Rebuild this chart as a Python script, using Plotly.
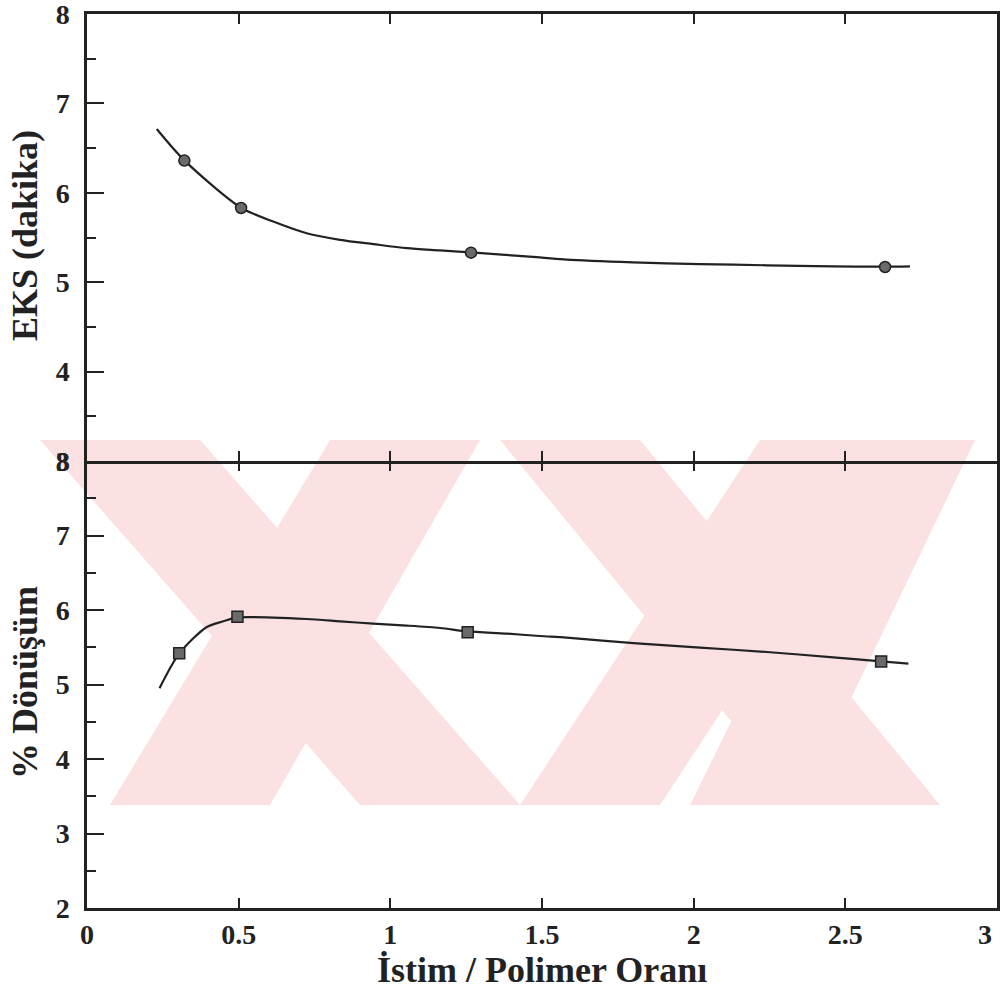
import plotly.graph_objects as go

# ---------------- data ----------------
ratio_eks_pts = [0.321, 0.508, 1.266, 2.631]
eks_pts = [6.36, 5.83, 5.33, 5.17]

eks_curve_x = [0.230, 0.321, 0.508, 0.614, 0.724, 0.834, 0.944, 1.054, 1.164, 1.266,
               1.493, 1.581, 1.800, 2.021, 2.241, 2.459, 2.631, 2.713]
eks_curve_y = [6.714, 6.363, 5.833, 5.678, 5.548, 5.474, 5.426, 5.381, 5.356, 5.333,
               5.278, 5.252, 5.222, 5.203, 5.189, 5.176, 5.174, 5.178]

ratio_conv_pts = [0.304, 0.496, 1.255, 2.618]
conv_pts = [5.42, 5.91, 5.70, 5.31]

conv_curve_x = [0.239, 0.304, 0.395, 0.449, 0.496, 0.614, 0.724, 0.834, 0.944, 1.054,
                1.164, 1.255, 1.384, 1.493, 1.581, 1.801, 2.021, 2.241, 2.460, 2.618, 2.708]
conv_curve_y = [4.95, 5.415, 5.772, 5.848, 5.900, 5.898, 5.879, 5.848, 5.817, 5.791,
                5.758, 5.712, 5.683, 5.651, 5.630, 5.555, 5.495, 5.436, 5.365, 5.310, 5.281]

x_ticks = [0, 0.5, 1, 1.5, 2, 2.5, 3]
x_tick_text = ["0", "0.5", "1", "1.5", "2", "2.5", ""]   # last label drawn separately
x_last_label = "3"
eks_ticks = [3, 4, 5, 6, 7, 8]
conv_ticks = [2, 3, 4, 5, 6, 7, 8]

x_title = "İstim / Polimer Oranı"
eks_title = "EKS (dakika)"
conv_title = "% Dönüşüm"

# ---------------- figure ----------------
W, H = 1000, 1001
L, R, T, B = 87, 3, 14, 93
split = 461  # pixel row of the shared boundary
plot_h = H - T - B
dom_split = (H - B - split) / plot_h

ink = "#222222"
fam = "Liberation Serif"

fig = go.Figure()

def px(xp):
    return (xp - L) / (W - L - R)

def py(yp):
    return (H - B - yp) / plot_h

# background watermark (light pink diagonal bands), pixel geometry
wm_color = "rgb(251,225,225)"
bands = [
    # (top-left x, top-right x, bottom-left x, bottom-right x)
    (40, 200, 360, 520),
    (330, 480, 110, 270),
    (500, 640, 800, 940),
    (760, 900, 520, 660),
    (870, 975, 690, 800),
]
y_top_wm, y_bot_wm = 440, 805
for a, b, c, d in bands:
    path = (f"M {px(a)},{py(y_top_wm)} L {px(b)},{py(y_top_wm)} "
            f"L {px(d)},{py(y_bot_wm)} L {px(c)},{py(y_bot_wm)} Z")
    fig.add_shape(type="path", path=path, xref="paper", yref="paper",
                  fillcolor=wm_color, line=dict(width=0), layer="below")

# top panel
fig.add_trace(go.Scatter(x=eks_curve_x, y=eks_curve_y, mode="lines",
                         line=dict(color=ink, width=2.2, shape="spline", smoothing=0.8),
                         xaxis="x2", yaxis="y2", showlegend=False, hoverinfo="skip"))
fig.add_trace(go.Scatter(x=ratio_eks_pts, y=eks_pts, mode="markers",
                         marker=dict(symbol="circle", size=11, color="#6a6a6a",
                                     line=dict(color=ink, width=1.5)),
                         xaxis="x2", yaxis="y2", showlegend=False))
# bottom panel
fig.add_trace(go.Scatter(x=conv_curve_x, y=conv_curve_y, mode="lines",
                         line=dict(color=ink, width=2.2, shape="spline", smoothing=0.8),
                         xaxis="x", yaxis="y", showlegend=False, hoverinfo="skip"))
fig.add_trace(go.Scatter(x=ratio_conv_pts, y=conv_pts, mode="markers",
                         marker=dict(symbol="square", size=11, color="#6a6a6a",
                                     line=dict(color=ink, width=1.5)),
                         xaxis="x", yaxis="y", showlegend=False))
# empty trace so the overlay axis (downward ticks on the shared boundary) is drawn
fig.add_trace(go.Scatter(x=[None], y=[None], xaxis="x3", yaxis="y",
                         showlegend=False, hoverinfo="skip"))

tick_font = dict(family=fam, size=28, color=ink, weight="bold")

common_x = dict(range=[0, 3], tickvals=x_ticks, ticktext=x_tick_text,
                ticks="inside", ticklen=10, tickwidth=2, tickcolor=ink,
                showgrid=False, zeroline=False, automargin=False,
                tickfont=tick_font, ticklabeloverflow="allow")
common_y = dict(ticks="inside", ticklen=17, tickwidth=2, tickcolor=ink,
                showline=True, linewidth=2.5, linecolor=ink, mirror=True,
                showgrid=False, zeroline=False, automargin=False,
                tickfont=tick_font, ticklabelstandoff=9, ticklabeloverflow="allow",
                minor=dict(dtick=0.5, ticks="inside", ticklen=9, tickwidth=2, tickcolor=ink))

fig.update_layout(
    width=W, height=H,
    margin=dict(l=L, r=R, t=T, b=B, pad=0),
    paper_bgcolor="white", plot_bgcolor="rgba(0,0,0,0)",
    xaxis=dict(**common_x, anchor="y", domain=[0, 1], showline=True, linewidth=2.5,
               linecolor=ink, mirror=False, ticklabelstandoff=0),
    xaxis3=dict(**common_x, anchor="y", overlaying="x", side="top", matches="x",
                showline=False, showticklabels=False),
    yaxis=dict(**common_y, range=[2, 8], tickvals=conv_ticks, anchor="x",
               domain=[0, dom_split]),
    xaxis2=dict(**common_x, anchor="y2", domain=[0, 1], matches="x",
                showline=True, linewidth=2.5, linecolor=ink, mirror="ticks",
                showticklabels=False),
    yaxis2=dict(**common_y, range=[3, 8], tickvals=eks_ticks, anchor="x2",
                domain=[dom_split, 1]),
    showlegend=False,
)

# last x tick label, nudged inside the page as in the reference
fig.add_annotation(text=x_last_label, xref="x", yref="paper",
                   x=x_ticks[-1], y=py(934), xanchor="right", yanchor="middle",
                   xshift=-3, showarrow=False, font=tick_font)

title_font = dict(family=fam, size=36, color=ink, weight="bold")
fig.add_annotation(text=x_title, xref="paper", yref="paper",
                   x=0.5, y=py(970), xanchor="center", yanchor="middle",
                   showarrow=False, font=title_font)
fig.add_annotation(text=eks_title, xref="paper", yref="paper",
                   x=px(25), y=py(236), xanchor="center", yanchor="middle",
                   textangle=-90, showarrow=False, font=title_font)
fig.add_annotation(text=conv_title, xref="paper", yref="paper",
                   x=px(25), y=py(683), xanchor="center", yanchor="middle",
                   textangle=-90, showarrow=False, font=title_font)

fig.write_html("out.html")
